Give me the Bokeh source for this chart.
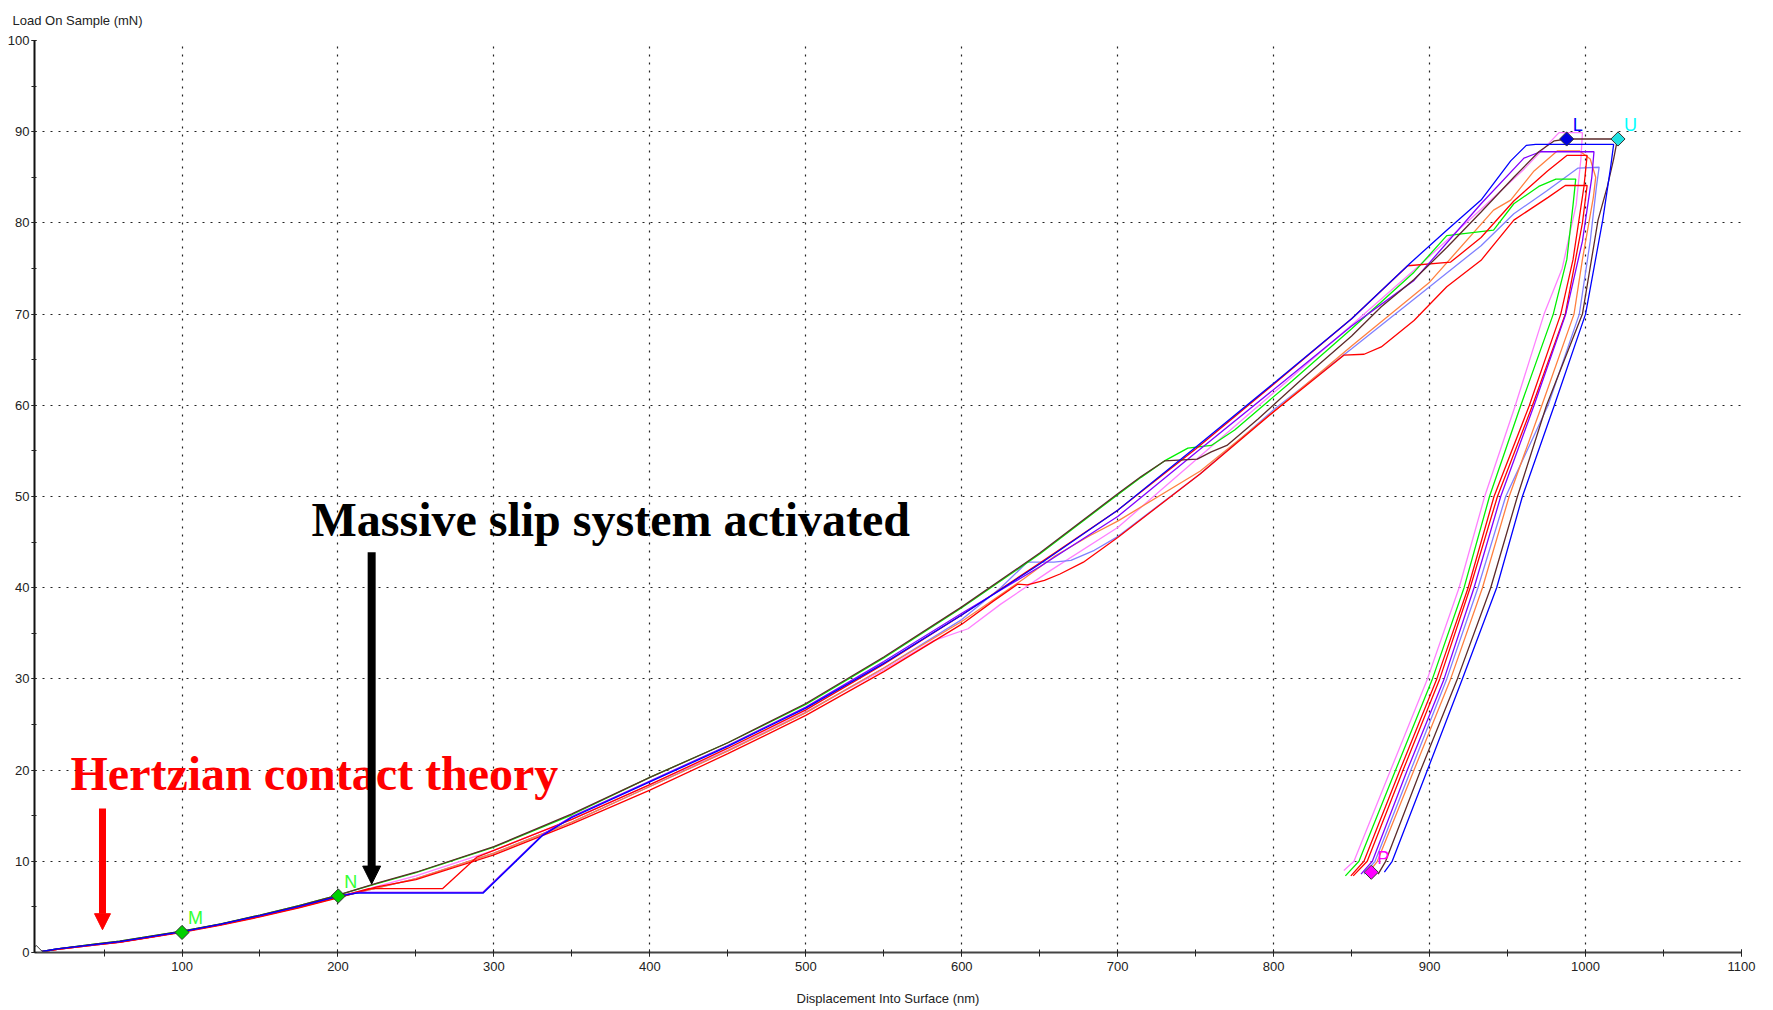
from bokeh.plotting import figure
from bokeh.models import Range1d, SingleIntervalTicker, Arrow, NormalHead, Label
from bokeh.core.properties import value
from bokeh.embed import file_html
from bokeh.resources import INLINE
import math

# ---- indentation load–displacement curves (displacement nm, load mN) ----
blue_h = [6.5, 20, 45, 60, 80, 100, 125, 150, 175, 200, 212, 293, 331, 350, 400, 450, 500, 550, 600, 650,
          700, 750, 802, 850, 887, 911, 933, 952, 962, 968, 1018,
          1016, 1011, 1000, 980, 959.5, 943, 921, 898.6, 876, 871]
blue_p = [0, 0.4, 0.9, 1.2, 1.75, 2.3, 3.1, 4.05, 5.05, 6.15, 6.5, 6.5, 12.8, 14.8, 18.7, 22.6, 26.8, 31.7, 37.0, 42.6,
          48.5, 55.4, 62.7, 69.5, 75.5, 79.2, 82.5, 86.8, 88.5, 88.6, 88.6,
          86, 80.3, 70, 60, 50, 40, 30, 20, 10, 8.8]

brown_h = [6.5, 20, 45, 60, 80, 100, 125, 150, 175, 200, 225, 250, 300, 350, 400, 450, 500, 550, 600, 650,
           700, 715, 730, 751, 760, 770, 790, 817, 850, 869, 890, 911, 933, 954, 970, 980, 988, 1020.5,
           1018, 1014, 1008, 998, 975, 956.3, 939.2, 917.8, 894.3, 871.8, 867]
brown_p = [0, 0.4, 0.95, 1.25, 1.8, 2.35, 3.15, 4.1, 5.15, 6.3, 7.6, 8.8, 11.6, 15.2, 19.2, 23.0, 27.3, 32.4, 37.9, 43.8,
           50.3, 52.2, 53.9, 54.1, 54.9, 55.6, 58.5, 62.7, 67.6, 70.8, 73.8, 77.3, 81.2, 85.0, 87.8, 89.0, 89.2, 89.2,
           87, 84, 80.3, 70, 60, 50, 40, 30, 20, 10, 8.6]

green_h = [6.5, 20, 45, 60, 80, 100, 125, 150, 175, 200, 225, 250, 300, 350, 400, 450, 500, 550, 600, 650,
           700, 715, 730, 745, 760, 775, 812, 850, 890, 911, 941, 954, 970, 981, 993.7,
           992, 988, 979.3, 958.5, 938.4, 922.1, 901.8, 878.2, 854.7, 846]
green_p = [0, 0.4, 0.95, 1.25, 1.8, 2.35, 3.15, 4.1, 5.15, 6.3, 7.55, 8.75, 11.55, 15.1, 19.2, 23.0, 27.2, 32.3, 37.8, 43.7,
           50.2, 52.1, 53.9, 55.3, 55.6, 57.3, 62.7, 68.4, 74.6, 78.6, 79.2, 82.1, 84.0, 84.8, 84.8,
           82, 76, 70, 60, 50, 40, 30, 20, 10, 8.4]

red1_h = [6.5, 20, 45, 60, 80, 100, 125, 150, 175, 200, 220, 267, 289, 300, 350, 400, 450, 500, 550, 600, 650,
          700, 750, 800, 850, 886, 913.5, 933, 954, 975.6, 988, 1001,
          999, 992, 984.1, 964, 941.3, 924.7, 904.6, 881, 857.9, 849.5]
red1_p = [0, 0.35, 0.9, 1.15, 1.7, 2.25, 3.05, 4.0, 5.0, 6.1, 7.0, 7.0, 10.45, 11.2, 14.6, 18.4, 22.4, 26.6, 31.6, 37.0, 42.7,
          48.5, 55.2, 62.3, 69.5, 75.3, 75.7, 78.4, 82.4, 85.7, 87.4, 87.4,
          84, 76, 70, 60, 50, 40, 30, 20, 10, 8.4]

red2_h = [6.5, 20, 45, 60, 80, 100, 125, 150, 175, 200, 225, 250, 300, 350, 400, 450, 500, 550, 600, 620,
          636, 642, 653, 663, 678, 700, 753, 800, 845, 858, 869, 890, 911, 933, 954, 976, 987, 1001,
          998, 987, 966, 943.5, 926, 906.5, 883, 860, 851]
red2_p = [0, 0.35, 0.85, 1.1, 1.65, 2.2, 3.0, 3.9, 4.9, 6.0, 7.2, 8.0, 10.7, 14.1, 17.8, 21.8, 26.0, 30.8, 36.0, 38.5,
          40.4, 40.3, 40.8, 41.5, 42.8, 45.5, 52.5, 59.3, 65.5, 65.6, 66.4, 69.3, 73.0, 75.9, 80.3, 82.8, 84.1, 84.1,
          80, 70, 60, 50, 40, 30, 20, 10, 8.4]

purple_h = [6.5, 20, 45, 60, 80, 100, 125, 150, 175, 200, 214, 293, 331, 350, 400, 450, 500, 550, 600, 650,
            700, 750, 807, 850, 890, 933, 960.5, 971, 1005.4,
            1004, 998, 987.3, 967, 945.6, 928.5, 909.3, 885.7, 863.3, 856]
purple_p = [0, 0.4, 0.9, 1.2, 1.75, 2.3, 3.1, 4.05, 5.05, 6.2, 6.6, 6.6, 12.9, 14.9, 18.8, 22.7, 26.9, 31.9, 37.2, 42.3,
            47.8, 54.8, 62.7, 68.7, 73.7, 82.1, 87.1, 87.8, 87.8,
            85, 78, 70, 60, 50, 40, 30, 20, 10, 8.6]

pink_h = [6.5, 20, 45, 60, 80, 100, 125, 150, 175, 200, 250, 300, 350, 400, 450, 500, 550, 582, 604, 625,
          657, 700, 750, 809, 850, 890, 933, 960, 983, 998,
          997, 994, 985, 973.4, 955, 935.3, 918.9, 898.6, 875, 851.5, 845]
pink_p = [0, 0.35, 0.85, 1.15, 1.7, 2.25, 3.05, 4.0, 5.0, 6.1, 8.4, 11.2, 14.6, 18.4, 22.2, 26.4, 31.0, 34.2, 35.5, 38.2,
          41.9, 46.6, 54.0, 62.7, 68.8, 74.8, 81.5, 85.8, 89.9, 89.9,
          87, 82, 75, 70, 60, 50, 40, 30, 20, 10, 9.0]

orange_h = [6.5, 20, 45, 60, 80, 100, 125, 150, 175, 200, 250, 300, 350, 400, 450, 500, 550, 600, 640, 660,
            682, 700, 753, 800, 850, 900, 941, 952, 967, 982, 996,
            1003, 1006.5, 1005, 998, 992.6, 972, 951, 933.9, 913.5, 890, 866.5, 860]
orange_p = [0, 0.35, 0.85, 1.15, 1.7, 2.25, 3.05, 3.95, 4.95, 6.05, 8.1, 10.9, 14.3, 18.2, 22.1, 26.3, 31.2, 36.3, 41.0, 43.5,
            45.7, 47.3, 52.8, 59.3, 66.5, 73.5, 81.4, 82.5, 85.7, 87.9, 87.9,
            87, 85, 82.8, 76, 70, 60, 50, 40, 30, 20, 10, 8.6]

peri_h = [6.5, 20, 45, 60, 80, 100, 125, 150, 175, 200, 250, 300, 350, 400, 450, 500, 550, 600, 625,
          642, 659, 670, 685, 700, 753, 800, 850, 900, 933, 954, 975, 995, 1008.7,
          1007, 1003, 996, 976, 948.8, 931, 911, 888, 865, 858]
peri_p = [0, 0.35, 0.85, 1.15, 1.7, 2.25, 3.05, 3.95, 4.95, 6.05, 8.1, 10.9, 14.3, 18.2, 22.1, 26.3, 31.2, 36.5, 40.0,
          42.8, 42.8, 43.0, 44.1, 45.6, 52.5, 59.5, 66.2, 73.0, 77.5, 81.0, 83.5, 86.0, 86.1,
          84, 78, 70, 60, 50, 40, 30, 20, 10, 8.6]

# ---- marked test points (surface, M, N, L, U, P) ----
mark_h = [6.5, 100, 200.2, 987.9, 1020.8, 862.6]
mark_p = [0.0, 2.2, 6.2, 89.2, 89.2, 8.8]
mark_fill = ["#FFFFFF", "#00D000", "#00D000", "#0000E0", "#20E0E0", "#FF00FF"]
mark_name = ["", "M", "N", "L", "U", "P"]
mark_text_color = ["#FFFFFF", "#33FF33", "#33FF33", "#0000FF", "#00FFFF", "#FF00FF"]

x_ticks_step = 100
y_ticks_step = 10

X0, X1, Y0, Y1 = 5.4, 1100, 0, 100
p = figure(width=1773, height=1010, output_backend="svg", toolbar_location=None,
           x_range=Range1d(X0, X1), y_range=Range1d(Y0, Y1),
           min_border_left=34, min_border_right=32, min_border_top=40, min_border_bottom=58,
           background_fill_color="white", border_fill_color="white")
p.outline_line_color = None

# vertical-axis caption, top-left above the frame
p.title.text = "Load On Sample (mN)"
p.title.text_font = "Liberation Sans"
p.title.text_font_size = "13px"
p.title.text_font_style = "normal"
p.title.text_color = "#222222"
p.title.align = "left"
p.title.vertical_align = "top"
p.title.offset = -22
p.title.standoff = 22

p.xaxis.ticker = SingleIntervalTicker(interval=x_ticks_step, num_minor_ticks=2)
p.yaxis.ticker = SingleIntervalTicker(interval=y_ticks_step, num_minor_ticks=2)
for ax in (p.xaxis[0], p.yaxis[0]):
    ax.major_label_text_font = "Liberation Sans"
    ax.major_label_text_font_size = "13px"
    ax.major_label_text_color = "#222222"
    ax.axis_line_width = 2
    ax.major_tick_line_color = "#222222"
    ax.minor_tick_line_color = "#222222"
p.xaxis.axis_line_color = "#444444"
p.yaxis.axis_line_color = "#111111"
p.xaxis.major_tick_in = 3
p.xaxis.major_tick_out = 4
p.xaxis.minor_tick_in = 3
p.xaxis.minor_tick_out = 4
p.yaxis.major_tick_in = 2
p.yaxis.major_tick_out = 3
p.yaxis.minor_tick_in = 2
p.yaxis.minor_tick_out = 3
p.xaxis.major_label_standoff = 5
p.yaxis.major_label_standoff = 2
p.xaxis.axis_label = "Displacement Into Surface (nm)"
p.xaxis.axis_label_text_font = "Liberation Sans"
p.xaxis.axis_label_text_font_size = "13px"
p.xaxis.axis_label_text_font_style = "normal"
p.xaxis.axis_label_text_color = "#222222"
p.xaxis.axis_label_standoff = 17

for g in (p.xgrid[0], p.ygrid[0]):
    g.grid_line_color = "#222222"
    g.grid_line_dash = "2 6"
    g.grid_line_width = 1.2

curves = [
    (pink_h, pink_p, "#FF80FF"),
    (peri_h, peri_p, "#8080FF"),
    (orange_h, orange_p, "#FF8040"),
    (green_h, green_p, "#00F000"),
    (red2_h, red2_p, "#FF0000"),
    (red1_h, red1_p, "#FF0000"),
    (purple_h, purple_p, "#8000FF"),
    (brown_h, brown_p, "#5C2A2A"),
    (blue_h, blue_p, "#0000FF"),
]
for h, load, c in curves:
    p.line(h, load, line_color=c, line_width=1.3)

p.scatter(mark_h, mark_p, marker="square", size=10, angle=math.pi / 4,
          fill_color=mark_fill, line_color="#333333", line_width=1)
p.text(mark_h[1:], mark_p[1:], text=mark_name[1:], text_color=mark_text_color[1:],
       text_font=value("Liberation Sans"), text_font_size="18px",
       x_offset=6, y_offset=-14, text_baseline="alphabetic", text_align="left")

# annotations
p.add_layout(Label(x=183, y=47.5, text="Massive slip system activated",
                   text_font="Liberation Serif", text_font_style="bold", text_font_size="48px",
                   text_color="black", text_baseline="alphabetic"))
p.add_layout(Label(x=28.5, y=19.6, text="Hertzian contact theory",
                   text_font="Liberation Serif", text_font_style="bold", text_font_size="48px",
                   text_color="#FF0000", text_baseline="alphabetic"))
p.add_layout(Arrow(x_start=221.6, y_start=43.9, x_end=221.6, y_end=7.5, line_color="black", line_width=8,
                   end=NormalHead(size=18, fill_color="black", line_color="black")))
p.add_layout(Arrow(x_start=49, y_start=15.8, x_end=49, y_end=2.5, line_color="#FF0000", line_width=7,
                   end=NormalHead(size=16, fill_color="#FF0000", line_color="#FF0000")))

open("out.html", "w").write(file_html(p, INLINE))
